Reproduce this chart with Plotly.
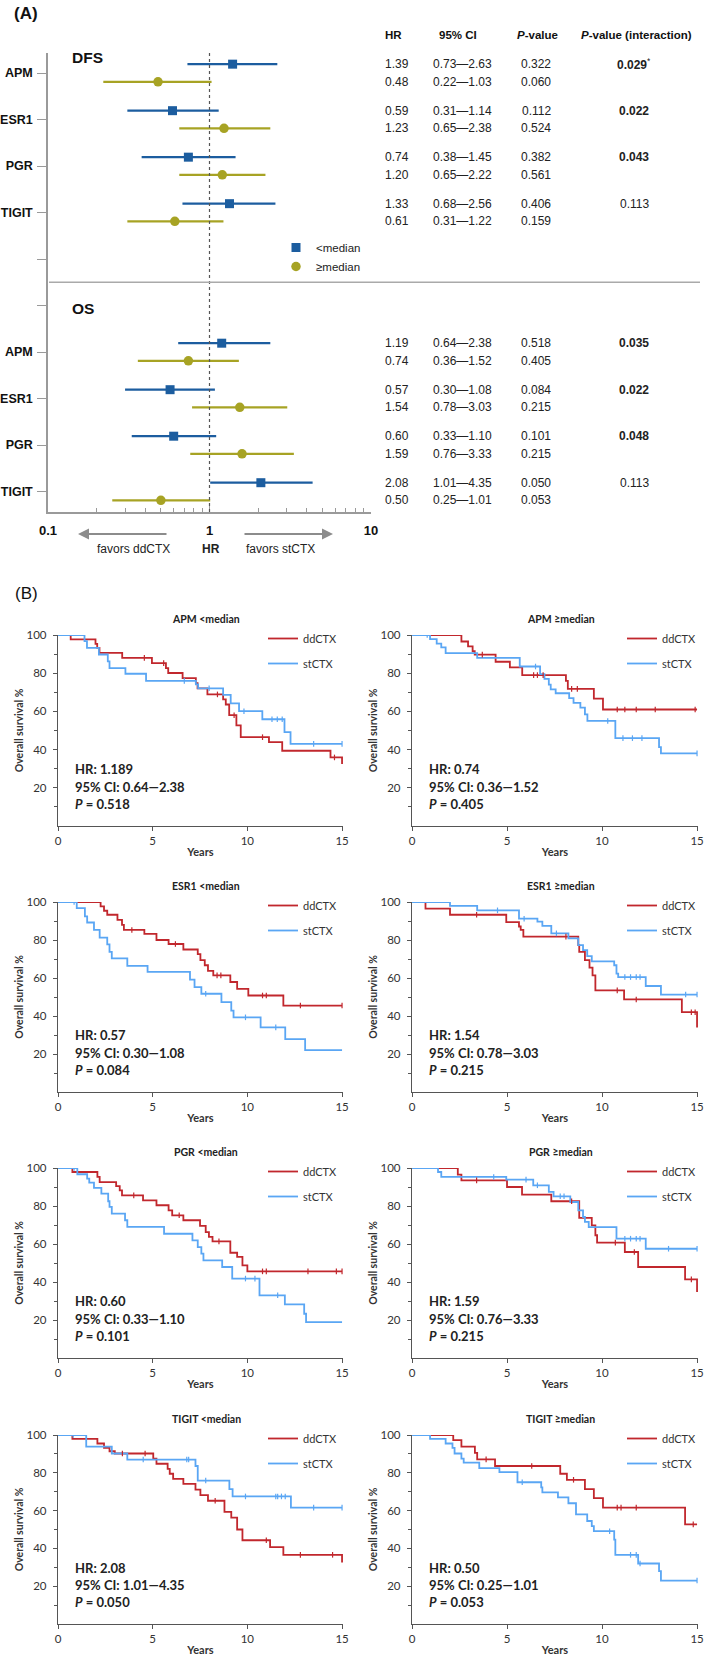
import plotly.graph_objects as go

W, H = 709, 1662
FF = "Liberation Sans"
KF = "Lato"
BLUE = "#1C5D9F"
OLIVE = "#A7A324"
RED = "#C1272D"
LBLUE = "#5AA6F4"


def px(x):
    return x / W


def py(y):
    return 1 - y / H


# ---------------- Panel A: forest plot data ----------------
genes = ["APM", "ESR1", "PGR", "TIGIT"]
dfs_lt_hr = [1.39, 0.59, 0.74, 1.33]
dfs_lt_lo = [0.73, 0.31, 0.38, 0.68]
dfs_lt_hi = [2.63, 1.14, 1.45, 2.56]
dfs_lt_p = ["0.322", "0.112", "0.382", "0.406"]
dfs_ge_hr = [0.48, 1.23, 1.20, 0.61]
dfs_ge_lo = [0.22, 0.65, 0.65, 0.31]
dfs_ge_hi = [1.03, 2.38, 2.22, 1.22]
dfs_ge_p = ["0.060", "0.524", "0.561", "0.159"]
dfs_pint = ["0.029", "0.022", "0.043", "0.113"]
dfs_pint_note = ["*", "", "", ""]

os_lt_hr = [1.19, 0.57, 0.60, 2.08]
os_lt_lo = [0.64, 0.30, 0.33, 1.01]
os_lt_hi = [2.38, 1.08, 1.10, 4.35]
os_lt_p = ["0.518", "0.084", "0.101", "0.050"]
os_ge_hr = [0.74, 1.54, 1.59, 0.50]
os_ge_lo = [0.36, 0.78, 0.76, 0.25]
os_ge_hi = [1.52, 3.03, 3.33, 1.01]
os_ge_p = ["0.405", "0.215", "0.215", "0.053"]
os_pint = ["0.035", "0.022", "0.048", "0.113"]
os_pint_note = ["", "", "", ""]

x_ticks = [0.1, 1, 10]
x_minor = [0.2, 0.3, 0.4, 0.5, 0.6, 0.7, 0.8, 0.9, 2, 3, 4, 5, 6, 7, 8, 9]

# ---------------- Panel B: Kaplan-Meier data (time in years, survival %) ----------------
apm_lt_dd_t = [0, 0.67, 1.98, 2.07, 2.19, 3.39, 4.96, 5.7, 5.82, 6.58, 7.28, 7.37, 7.89, 8.72, 8.86, 9.04, 9.42, 9.65, 11.14, 11.84, 14.39, 15]
apm_lt_dd_s = [100, 97.7, 95.4, 93.3, 90.6, 88.0, 85.3, 82.7, 80.1, 77.4, 74.8, 72.1, 68.9, 66.3, 63.6, 58.0, 52.7, 46.5, 43.9, 39.4, 35.9, 32.4]
apm_lt_dd_c = [4.56, 5.58, 8.42, 9.3, 10.8, 14.6]
apm_lt_st_t = [0, 1.4, 1.53, 2.16, 2.63, 2.72, 3.56, 4.65, 7.28, 7.4, 8.72, 9.12, 9.56, 10.79, 11.96, 12.28, 15]
apm_lt_st_s = [100, 96.8, 93.3, 89.8, 86.2, 82.7, 79.7, 76.0, 74.2, 72.1, 68.6, 64.2, 60.1, 55.9, 49.2, 43.0, 43.0]
apm_lt_st_c = [6.67, 7.98, 9.82, 11.3, 11.58, 11.84, 13.5, 15]

apm_ge_dd_t = [0, 2.6, 2.95, 3.19, 3.3, 4.4, 5.15, 5.8, 8.1, 8.2, 9.57, 10.05, 15]
apm_ge_dd_s = [100, 96.6, 94.0, 91.5, 89.7, 86.0, 83.0, 79.0, 76.0, 71.8, 66.7, 61.0, 61.0]
apm_ge_dd_c = [3.7, 6.4, 6.6, 6.9, 8.4, 8.7, 10.8, 11.2, 11.8, 12.8, 14.9]
apm_ge_st_t = [0, 0.95, 1.3, 1.54, 1.77, 3.43, 5.67, 6.74, 6.97, 7.2, 7.3, 7.56, 8.27, 8.5, 8.86, 9.1, 9.23, 10.7, 13.0, 13.1, 15]
apm_ge_st_s = [100, 97.8, 95.5, 93.5, 90.5, 88.0, 83.5, 79.5, 77.0, 74.0, 71.5, 69.5, 67.0, 64.5, 62.0, 58.4, 55.0, 46.0, 41.3, 38.0, 38.0]
apm_ge_st_c = [0.8, 6.5, 10.3, 11.1, 11.6, 12.1, 15]

esr1_lt_dd_t = [0, 2.25, 2.43, 2.6, 3.14, 3.38, 3.48, 4.56, 5.2, 5.84, 6.62, 7.38, 7.52, 7.75, 7.92, 8.2, 9.1, 9.46, 10.05, 11.9, 15]
esr1_lt_dd_s = [100, 97.7, 95.4, 93.3, 90.6, 88.0, 85.3, 83.2, 80.0, 77.9, 75.0, 72.6, 69.4, 66.7, 63.7, 61.4, 57.9, 54.3, 50.8, 45.5, 45.5]
esr1_lt_dd_c = [3.9, 6.2, 8.4, 8.6, 10.8, 11.0, 12.8, 15]
esr1_lt_st_t = [0, 0.99, 1.42, 1.54, 1.9, 2.2, 2.6, 2.72, 2.84, 3.66, 4.73, 6.97, 7.21, 7.57, 8.63, 9.15, 9.27, 10.7, 12.0, 13.05, 15]
esr1_lt_st_s = [100, 96.8, 92.4, 89.2, 85.3, 81.2, 77.7, 73.8, 70.3, 66.4, 63.2, 59.1, 55.2, 51.7, 47.3, 42.8, 39.3, 34.0, 27.8, 22.0, 22.0]
esr1_lt_st_c = [0.85, 7.8, 9.9, 11.5]

esr1_ge_dd_t = [0, 0.71, 2.0, 4.96, 5.63, 5.72, 5.86, 8.75, 8.8, 9.1, 9.34, 9.5, 9.65, 11.16, 14.2, 15]
esr1_ge_dd_s = [100, 96.5, 93.3, 89.4, 87.1, 85.3, 81.8, 77.3, 73.8, 69.4, 65.5, 61.4, 53.5, 48.7, 42.0, 34.0]
esr1_ge_dd_c = [3.4, 8.1, 10.8, 11.8, 14.7, 14.9]
esr1_ge_st_t = [0, 2.0, 3.43, 5.63, 6.6, 6.86, 7.33, 8.23, 8.75, 9.0, 9.22, 9.46, 10.64, 10.76, 10.85, 12.3, 13.1, 15]
esr1_ge_st_s = [100, 98.0, 95.6, 91.2, 89.7, 87.4, 83.5, 80.9, 77.3, 74.7, 71.5, 68.8, 66.7, 62.3, 60.5, 55.8, 51.3, 51.3]
esr1_ge_st_c = [4.5, 5.9, 7.6, 11.2, 11.5, 11.8, 12.0, 14.4, 15]

pgr_lt_dd_t = [0, 0.76, 2.08, 2.2, 3.07, 3.26, 3.38, 4.49, 5.2, 5.84, 6.03, 6.62, 7.5, 7.8, 7.97, 8.16, 9.1, 9.46, 9.74, 10.0, 15]
pgr_lt_dd_s = [100, 97.9, 95.3, 92.6, 90.5, 88.2, 85.6, 83.0, 80.4, 77.7, 75.1, 72.5, 69.5, 66.3, 63.7, 61.4, 55.4, 53.2, 48.8, 45.6, 45.6]
pgr_lt_dd_c = [4.0, 6.4, 8.5, 10.8, 11.0, 13.2, 14.7, 15]
pgr_lt_st_t = [0, 1.02, 1.54, 1.65, 1.9, 2.29, 2.65, 2.72, 2.84, 3.54, 3.66, 5.6, 7.1, 7.38, 7.57, 7.68, 8.67, 9.2, 10.64, 11.98, 13.0, 13.1, 15]
pgr_lt_st_s = [100, 96.7, 94.4, 92.3, 89.5, 86.5, 82.5, 79.5, 76.0, 72.5, 69.0, 65.4, 61.9, 58.4, 54.9, 51.4, 47.9, 41.8, 33.0, 28.2, 23.3, 18.9, 18.9]
pgr_lt_st_c = [0.85, 9.9, 10.4, 11.6]

pgr_ge_dd_t = [0, 2.41, 2.6, 5.0, 5.79, 7.33, 8.8, 9.46, 9.65, 9.74, 11.2, 11.9, 14.37, 15]
pgr_ge_dd_s = [100, 96.5, 93.5, 90.0, 86.0, 82.5, 73.7, 69.8, 64.6, 60.7, 55.8, 47.9, 41.4, 34.7]
pgr_ge_dd_c = [3.4, 8.4, 10.7, 11.7, 14.7]
pgr_ge_st_t = [0, 1.37, 1.54, 4.96, 6.38, 7.2, 7.45, 8.33, 8.75, 9.0, 9.1, 9.3, 10.76, 12.3, 15]
pgr_ge_st_s = [100, 97.9, 95.3, 93.9, 90.9, 87.4, 85.1, 82.1, 77.7, 74.2, 71.6, 68.9, 62.8, 57.5, 57.5]
pgr_ge_st_c = [4.3, 6.0, 6.6, 7.8, 8.0, 11.2, 11.5, 11.8, 12.0, 13.5, 15]

tigit_lt_dd_t = [0, 0.76, 2.08, 2.43, 2.72, 3.0, 5.03, 5.2, 5.79, 5.9, 6.08, 6.62, 7.26, 7.52, 7.92, 8.79, 9.15, 9.46, 9.74, 11.2, 11.9, 15]
tigit_lt_dd_s = [100, 97.9, 95.5, 93.2, 91.4, 90.2, 87.5, 84.8, 82.1, 79.5, 76.8, 74.1, 71.1, 68.2, 65.2, 59.3, 56.3, 50.0, 44.3, 40.7, 36.6, 32.5]
tigit_lt_dd_c = [3.4, 4.6, 8.3, 11.0, 12.8, 14.5]
tigit_lt_st_t = [0, 1.49, 2.84, 3.66, 7.26, 7.38, 9.05, 9.22, 12.3, 15]
tigit_lt_st_s = [100, 93.8, 90.2, 87.0, 83.6, 75.9, 71.4, 67.5, 61.6, 61.6]
tigit_lt_st_c = [0.8, 4.5, 6.8, 6.9, 7.8, 9.9, 11.5, 11.6, 11.8, 12.0, 13.5, 15]

tigit_ge_dd_t = [0, 2.17, 2.6, 3.31, 3.43, 4.37, 7.8, 8.15, 9.1, 9.57, 10.05, 14.37, 15]
tigit_ge_dd_s = [100, 97.3, 93.8, 90.5, 87.1, 83.6, 79.5, 76.3, 71.4, 66.6, 61.6, 52.7, 52.7]
tigit_ge_dd_c = [3.9, 6.3, 8.5, 10.8, 11.0, 11.8, 14.8]
tigit_ge_st_t = [0, 0.95, 1.77, 2.13, 2.24, 2.6, 2.72, 3.54, 4.6, 5.55, 6.8, 6.86, 7.68, 8.23, 8.63, 9.22, 9.46, 9.57, 10.64, 10.7, 11.9, 13.0, 13.1, 15]
tigit_ge_st_s = [100, 97.9, 95.5, 93.2, 90.2, 87.5, 85.4, 82.5, 80.4, 75.0, 72.3, 69.6, 67.0, 63.9, 58.0, 54.5, 51.8, 49.1, 44.6, 36.6, 32.0, 28.0, 23.0, 23.0]
tigit_ge_st_c = [5.8, 10.4, 11.5, 11.8, 12.0, 15]

km_titles = ["APM &lt;median", "APM ≥median", "ESR1 &lt;median", "ESR1 ≥median",
             "PGR &lt;median", "PGR ≥median", "TIGIT &lt;median", "TIGIT ≥median"]
km_hr = ["1.189", "0.74", "0.57", "1.54", "0.60", "1.59", "2.08", "0.50"]
km_ci = ["0.64—2.38", "0.36—1.52", "0.30—1.08", "0.78—3.03",
         "0.33—1.10", "0.76—3.33", "1.01—4.35", "0.25—1.01"]
km_p = ["0.518", "0.405", "0.084", "0.215", "0.101", "0.215", "0.050", "0.053"]
km_yticks = [20, 40, 60, 80, 100]
km_yminor = [10, 30, 50, 70, 90]
km_xticks = [0, 5, 10, 15]

km_curves = [
    (apm_lt_dd_t, apm_lt_dd_s, apm_lt_dd_c, apm_lt_st_t, apm_lt_st_s, apm_lt_st_c),
    (apm_ge_dd_t, apm_ge_dd_s, apm_ge_dd_c, apm_ge_st_t, apm_ge_st_s, apm_ge_st_c),
    (esr1_lt_dd_t, esr1_lt_dd_s, esr1_lt_dd_c, esr1_lt_st_t, esr1_lt_st_s, esr1_lt_st_c),
    (esr1_ge_dd_t, esr1_ge_dd_s, esr1_ge_dd_c, esr1_ge_st_t, esr1_ge_st_s, esr1_ge_st_c),
    (pgr_lt_dd_t, pgr_lt_dd_s, pgr_lt_dd_c, pgr_lt_st_t, pgr_lt_st_s, pgr_lt_st_c),
    (pgr_ge_dd_t, pgr_ge_dd_s, pgr_ge_dd_c, pgr_ge_st_t, pgr_ge_st_s, pgr_ge_st_c),
    (tigit_lt_dd_t, tigit_lt_dd_s, tigit_lt_dd_c, tigit_lt_st_t, tigit_lt_st_s, tigit_lt_st_c),
    (tigit_ge_dd_t, tigit_ge_dd_s, tigit_ge_dd_c, tigit_ge_st_t, tigit_ge_st_s, tigit_ge_st_c),
]


def surv_at(times, surv, t):
    v = surv[0]
    for ti, si in zip(times, surv):
        if ti <= t:
            v = si
    return v


fig = go.Figure()
annotations = []
shapes = []
layout = {}

# ---------------- Forest plot ----------------
dfs_rows = [0, 1, 2, 3]
os_rows = [6, 7, 8, 9]
rows = dfs_rows + os_rows
OFF = 0.19
lt_hr = dfs_lt_hr + os_lt_hr
lt_lo = dfs_lt_lo + os_lt_lo
lt_hi = dfs_lt_hi + os_lt_hi
ge_hr = dfs_ge_hr + os_ge_hr
ge_lo = dfs_ge_lo + os_ge_lo
ge_hi = dfs_ge_hi + os_ge_hi

fig.add_trace(go.Scatter(
    x=lt_hr, y=[r - OFF for r in rows], mode="markers", name="&lt;median",
    marker=dict(symbol="square", size=9, color=BLUE),
    error_x=dict(type="data", symmetric=False,
                 array=[h - m for h, m in zip(lt_hi, lt_hr)],
                 arrayminus=[m - l for m, l in zip(lt_hr, lt_lo)],
                 width=0, thickness=2.2, color=BLUE),
    xaxis="x", yaxis="y", legend="legend", hoverinfo="skip"))
fig.add_trace(go.Scatter(
    x=ge_hr, y=[r + OFF for r in rows], mode="markers", name="≥median",
    marker=dict(symbol="circle", size=9.5, color=OLIVE),
    error_x=dict(type="data", symmetric=False,
                 array=[h - m for h, m in zip(ge_hi, ge_hr)],
                 arrayminus=[m - l for m, l in zip(ge_hr, ge_lo)],
                 width=0, thickness=2.2, color=OLIVE),
    xaxis="x", yaxis="y", legend="legend", hoverinfo="skip"))

layout["xaxis"] = dict(
    type="log", range=[-1, 1], domain=[px(48), px(371)], anchor="y", automargin=False,
    tickvals=x_ticks, ticktext=["<b>%g</b>" % v for v in x_ticks],
    ticks="inside", ticklen=7, tickcolor="#9a9a9a", tickwidth=1,
    showline=True, linecolor="#9a9a9a", linewidth=1.5,
    minor=dict(tickvals=x_minor, ticks="inside", ticklen=4, tickcolor="#9a9a9a"),
    showgrid=False, zeroline=False, ticklabelstandoff=6,
    tickfont=dict(family=FF, size=13, color="#111"))
layout["yaxis"] = dict(
    range=[9.44, -0.43], domain=[py(512), py(53)], anchor="x", automargin=False,
    tickvals=list(range(10)),
    ticktext=["<b>%s</b>" % g for g in genes] + ["", ""] + ["<b>%s</b>" % g for g in genes],
    ticks="outside", ticklen=9, tickcolor="#9a9a9a",
    showline=True, linecolor="#9a9a9a", linewidth=1.5,
    showgrid=False, zeroline=False, ticklabelstandoff=2,
    tickfont=dict(family=FF, size=12.5, color="#111"))

shapes.append(dict(type="line", xref="x", yref="y domain", x0=1, x1=1, y0=0, y1=1,
                   line=dict(color="#555", width=1.2, dash="dot")))
shapes.append(dict(type="line", xref="paper", yref="y", x0=px(49), x1=px(700), y0=4.5, y1=4.5,
                   line=dict(color="#aaaaaa", width=1.5)))

annotations.append(dict(text="<b>(A)</b>", x=px(12), y=py(14), xref="paper", yref="paper",
                        xanchor="left", yanchor="middle", showarrow=False,
                        font=dict(family=FF, size=17, color="#111")))
annotations.append(dict(text="<b>DFS</b>", x=px(70), y=-0.34, xref="paper", yref="y",
                        xanchor="left", yanchor="middle", showarrow=False,
                        font=dict(family=FF, size=15.5, color="#111")))
annotations.append(dict(text="<b>OS</b>", x=px(70), y=5.07, xref="paper", yref="y",
                        xanchor="left", yanchor="middle", showarrow=False,
                        font=dict(family=FF, size=15.5, color="#111")))

# table header
hdr = [("<b>HR</b>", 393), ("<b>95% CI</b>", 458), ("<b><i>P</i>-value</b>", 537),
       ("<b><i>P</i>-value (interaction)</b>", 636)]
for txt, xx in hdr:
    annotations.append(dict(text=txt, x=px(xx), y=py(35), xref="paper", yref="paper",
                            xanchor="center", yanchor="middle", showarrow=False,
                            font=dict(family=FF, size=11.5, color="#111")))

col_hr, col_ci, col_p, col_pi = px(397), px(462), px(536), px(634)
tab_lt_p = dfs_lt_p + os_lt_p
tab_ge_p = dfs_ge_p + os_ge_p
tab_pint = dfs_pint + os_pint
tab_note = dfs_pint_note + os_pint_note
for i, r in enumerate(rows):
    for yy, hr_, lo_, hi_, p_ in ((r - OFF, lt_hr[i], lt_lo[i], lt_hi[i], tab_lt_p[i]),
                                  (r + OFF, ge_hr[i], ge_lo[i], ge_hi[i], tab_ge_p[i])):
        for txt, xx in (("%.2f" % hr_, col_hr), ("%.2f—%.2f" % (lo_, hi_), col_ci), (p_, col_p)):
            annotations.append(dict(text=txt, x=xx, y=yy, xref="paper", yref="y",
                                    xanchor="center", yanchor="middle", showarrow=False,
                                    font=dict(family=FF, size=12, color="#222")))
    pv = tab_pint[i]
    txt = ("<b>%s</b>" % pv) if float(pv) < 0.05 else pv
    if tab_note[i]:
        txt += "<sup>%s</sup>" % tab_note[i]
    annotations.append(dict(text=txt, x=col_pi, y=r - OFF, xref="paper", yref="y",
                            xanchor="center", yanchor="middle", showarrow=False,
                            font=dict(family=FF, size=12, color="#222")))

# arrows and HR axis caption
annotations.append(dict(text="", x=px(78), y=py(534), xref="paper", yref="paper",
                        ax=90, ay=0, axref="pixel", ayref="pixel", showarrow=True,
                        arrowhead=2, arrowsize=1, arrowwidth=2.2, arrowcolor="#8c8c8c"))
annotations.append(dict(text="", x=px(333), y=py(534), xref="paper", yref="paper",
                        ax=-90, ay=0, axref="pixel", ayref="pixel", showarrow=True,
                        arrowhead=2, arrowsize=1, arrowwidth=2.2, arrowcolor="#8c8c8c"))
for txt, xx in (("favors ddCTX", 133), ("<b>HR</b>", 211), ("favors stCTX", 280)):
    annotations.append(dict(text=txt, x=px(xx), y=py(549), xref="paper", yref="paper",
                            xanchor="center", yanchor="middle", showarrow=False,
                            font=dict(family=FF, size=12, color="#222")))

layout["legend"] = dict(x=px(276), y=py(233), xanchor="left", yanchor="top",
                        font=dict(family=FF, size=11.5, color="#222"),
                        bgcolor="rgba(0,0,0,0)", tracegroupgap=0, itemclick=False)

# ---------------- Panel B: KM curves ----------------
annotations.append(dict(text="(B)", x=px(13), y=py(593), xref="paper", yref="paper",
                        xanchor="left", yanchor="middle", showarrow=False,
                        font=dict(family=FF, size=17, color="#111")))

x_dom = [(58, 343), (412, 698)]
row_top = [635, 902, 1168, 1435]
row_bot = [826, 1092, 1358, 1624]
leg_x = [263, 622]

for k, (dd_t, dd_s, dd_c, st_t, st_s, st_c) in enumerate(km_curves):
    n = k + 2
    r, c = divmod(k, 2)
    xa, ya = "x%d" % n, "y%d" % n
    lg = "legend%d" % n
    fig.add_trace(go.Scatter(x=dd_t, y=dd_s, mode="lines", name="ddCTX",
                             line=dict(shape="hv", color=RED, width=1.8),
                             xaxis=xa, yaxis=ya, legend=lg, legendgroup="dd%d" % n,
                             hoverinfo="skip"))
    fig.add_trace(go.Scatter(x=st_t, y=st_s, mode="lines", name="stCTX",
                             line=dict(shape="hv", color=LBLUE, width=1.8),
                             xaxis=xa, yaxis=ya, legend=lg, legendgroup="st%d" % n,
                             hoverinfo="skip"))
    fig.add_trace(go.Scatter(x=dd_c, y=[surv_at(dd_t, dd_s, t) for t in dd_c], mode="markers",
                             marker=dict(symbol="line-ns", size=4, line=dict(width=1.2, color=RED)),
                             xaxis=xa, yaxis=ya, showlegend=False, hoverinfo="skip"))
    fig.add_trace(go.Scatter(x=st_c, y=[surv_at(st_t, st_s, t) for t in st_c], mode="markers",
                             marker=dict(symbol="line-ns", size=4, line=dict(width=1.2, color=LBLUE)),
                             xaxis=xa, yaxis=ya, showlegend=False, hoverinfo="skip"))

    layout["xaxis%d" % n] = dict(
        range=[0, 15.05], domain=[px(x_dom[c][0]), px(x_dom[c][1])], anchor=ya,
        automargin=False,
        tickvals=km_xticks, ticks="outside", ticklen=4, tickcolor="#555",
        showline=True, linecolor="#555", linewidth=1.3, showgrid=False, zeroline=False,
        tickfont=dict(family=KF, size=11.5, color="#333"),
        title=dict(text="<b>Years</b>", font=dict(family=KF, size=11, color="#333"), standoff=2))
    layout["yaxis%d" % n] = dict(
        range=[0, 100], domain=[py(row_bot[r]), py(row_top[r])], anchor=xa,
        automargin=False,
        tickvals=km_yticks, ticks="outside", ticklen=4, tickcolor="#555",
        minor=dict(tickvals=km_yminor, ticks="outside", ticklen=3, tickcolor="#555"),
        showline=True, linecolor="#555", linewidth=1.3, showgrid=False, zeroline=False,
        ticklabelstandoff=4,
        tickfont=dict(family=KF, size=11.5, color="#333"),
        title=dict(text="<b>Overall survival %</b>", font=dict(family=KF, size=10.5, color="#333"),
                   standoff=0))
    layout[lg] = dict(x=px(leg_x[c]), y=py(row_top[r] - 11), xanchor="left", yanchor="top",
                      font=dict(family=KF, size=11, color="#333"),
                      bgcolor="rgba(0,0,0,0)", tracegroupgap=6, itemclick=False)

    annotations.append(dict(text="<b>%s</b>" % km_titles[k], x=0.52, y=1.085,
                            xref="%s domain" % xa, yref="%s domain" % ya,
                            xanchor="center", yanchor="middle", showarrow=False,
                            font=dict(family=KF, size=10.5, color="#222")))
    km_lines = (("HR: " + km_hr[k], 29.8), ("95% CI: " + km_ci[k], 20.4),
                ("<i>P</i> = " + km_p[k], 11.5))
    for txt, yy in km_lines:
        annotations.append(dict(text="<b>" + txt + "</b>", x=0.053, y=yy,
                                xref="%s domain" % xa, yref=ya,
                                xanchor="left", yanchor="middle", showarrow=False,
                                font=dict(family=KF, size=13, color="#222")))

fig.update_layout(
    width=W, height=H, margin=dict(l=0, r=0, t=0, b=0, autoexpand=False),
    paper_bgcolor="white", plot_bgcolor="white",
    showlegend=True, annotations=annotations, shapes=shapes, **layout)

fig.write_html("out.html", config={"displayModeBar": False},
               post_script="document.body.style.margin='0';document.body.style.padding='0';")
